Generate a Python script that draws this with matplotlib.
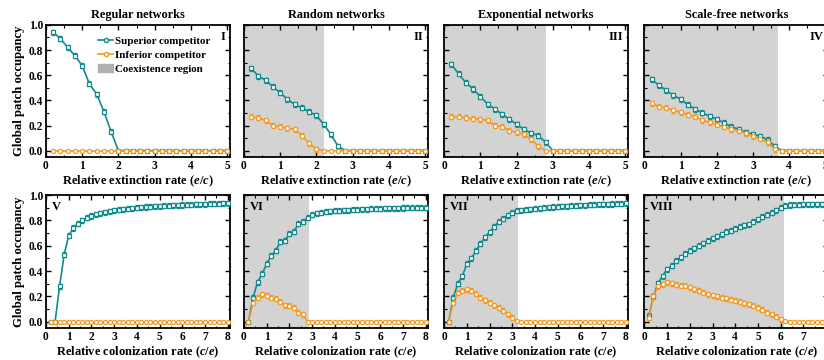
"""Global patch occupancy of superior / inferior competitors on four network types."""

import matplotlib as mpl
import matplotlib.pyplot as plt
import numpy as np
from matplotlib.lines import Line2D
from matplotlib.patches import Patch
from matplotlib.ticker import MultipleLocator, FuncFormatter

mpl.rcParams.update(
    {
        "font.family": ["Liberation Serif", "DejaVu Serif"],
        "font.weight": "bold",
        "axes.titleweight": "bold",
        "axes.labelweight": "bold",
        "font.size": 7.5,
        "mathtext.fontset": "custom",
        "mathtext.it": "Liberation Serif:italic:bold",
        "mathtext.rm": "Liberation Serif:bold",
        "mathtext.bf": "Liberation Serif:bold",
        "axes.linewidth": 1.3,
        "xtick.direction": "in",
        "ytick.direction": "in",
        "xtick.top": True,
        "ytick.right": True,
    }
)

TEAL = "#138a8c"
ORANGE = "#f39a22"
SHADE = "#d3d3d3"

# ---- top row: relative extinction rate (e/c) ----
ext_x = np.round(np.arange(0.2, 5.01, 0.2), 1)

reg_sup = [0.94, 0.89, 0.82, 0.755, 0.675, 0.53, 0.45, 0.31, 0.15, 0.0]
reg_inf = [0.0] * 25

rnd_sup = [0.654, 0.593, 0.56, 0.508, 0.46, 0.41, 0.367, 0.34, 0.31, 0.28,
           0.21, 0.13, 0.035, 0.0]
rnd_inf = [0.27, 0.26, 0.24, 0.20, 0.19, 0.18, 0.17, 0.12, 0.06, 0.013, 0.0]

exp_sup = [0.686, 0.61, 0.54, 0.49, 0.43, 0.37, 0.33, 0.29, 0.25, 0.21,
           0.17, 0.14, 0.12, 0.066, 0.0]
exp_inf = [0.27, 0.27, 0.26, 0.255, 0.25, 0.24, 0.20, 0.19, 0.16, 0.146,
           0.13, 0.09, 0.035, 0.0]

sf_sup = [0.566, 0.52, 0.48, 0.44, 0.41, 0.365, 0.33, 0.30, 0.275, 0.25,
          0.22, 0.19, 0.17, 0.146, 0.13, 0.114, 0.088, 0.035, 0.0]
sf_inf = [0.375, 0.35, 0.34, 0.32, 0.305, 0.285, 0.27, 0.24, 0.225, 0.205,
          0.19, 0.17, 0.16, 0.14, 0.114, 0.093, 0.066, 0.013, 0.0]

# ---- bottom row: relative colonization rate (c/e) ----
col_x = np.round(np.arange(0.2, 8.01, 0.2), 1)

reg_c_sup = [0.0, 0.0, 0.28, 0.53, 0.68, 0.74, 0.775, 0.80, 0.82, 0.835,
             0.848, 0.858, 0.866, 0.873, 0.879, 0.884, 0.889, 0.893, 0.897, 0.900,
             0.903, 0.906, 0.908, 0.911, 0.913, 0.915, 0.917, 0.919, 0.920, 0.922,
             0.924, 0.925, 0.927, 0.928, 0.929, 0.931, 0.932, 0.933, 0.934, 0.935]
reg_c_inf = [0.0] * 40

rnd_c_sup = [0.0, 0.19, 0.31, 0.377, 0.456, 0.52, 0.56, 0.63, 0.64, 0.695,
             0.71, 0.775, 0.79, 0.82, 0.846, 0.857, 0.862, 0.867, 0.872, 0.875,
             0.878, 0.880, 0.882, 0.884, 0.886, 0.888, 0.890, 0.891, 0.893, 0.894,
             0.895, 0.896, 0.897, 0.897, 0.898, 0.899, 0.899, 0.900, 0.900, 0.901]
rnd_c_inf = [0.0, 0.15, 0.19, 0.217, 0.204, 0.19, 0.18, 0.157, 0.13, 0.125,
             0.11, 0.07, 0.06, 0.0] + [0.0] * 26

exp_c_sup = [0.0, 0.19, 0.30, 0.36, 0.456, 0.50, 0.56, 0.615, 0.668, 0.708,
             0.75, 0.79, 0.814, 0.84, 0.862, 0.875, 0.88, 0.885, 0.889, 0.893,
             0.897, 0.900, 0.903, 0.906, 0.909, 0.911, 0.913, 0.915, 0.917, 0.919,
             0.921, 0.923, 0.925, 0.926, 0.928, 0.929, 0.930, 0.931, 0.932, 0.934]
exp_c_inf = [0.0, 0.15, 0.23, 0.245, 0.257, 0.245, 0.22, 0.19, 0.17, 0.15,
             0.13, 0.11, 0.085, 0.058, 0.03, 0.005] + [0.0] * 24

sf_c_sup = [0.045, 0.20, 0.305, 0.36, 0.415, 0.44, 0.48, 0.51, 0.535, 0.56,
            0.58, 0.60, 0.62, 0.64, 0.66, 0.675, 0.69, 0.71, 0.72, 0.735,
            0.75, 0.76, 0.77, 0.79, 0.81, 0.83, 0.845, 0.86, 0.88, 0.90,
            0.915, 0.922, 0.924, 0.925, 0.926, 0.927, 0.928, 0.928, 0.929, 0.930]
sf_c_inf = [0.03, 0.20, 0.28, 0.297, 0.31, 0.305, 0.29, 0.284, 0.284, 0.27,
            0.257, 0.244, 0.23, 0.218, 0.21, 0.20, 0.19, 0.183, 0.172, 0.164,
            0.156, 0.146, 0.138, 0.125, 0.11, 0.093, 0.072, 0.058, 0.04, 0.019,
            0.005] + [0.0] * 9

# coexistence region upper bounds (None = no region)
ext_coexist = [None, 2.22, 2.80, 3.68]
col_coexist = [None, 2.86, 3.27, 6.15]

TITLES = ["Regular networks", "Random networks", "Exponential networks", "Scale-free networks"]
TOP_LABELS = ["I", "II", "III", "IV"]
BOT_LABELS = ["V", "VI", "VII", "VIII"]
ERR = 0.02

top_data = [(reg_sup, reg_inf), (rnd_sup, rnd_inf), (exp_sup, exp_inf), (sf_sup, sf_inf)]
bot_data = [(reg_c_sup, reg_c_inf), (rnd_c_sup, rnd_c_inf),
            (exp_c_sup, exp_c_inf), (sf_c_sup, sf_c_inf)]


def pad(vals, n):
    return list(vals) + [0.0] * (n - len(vals))


def draw_series(ax, x, y, color, marker):
    y = np.array(pad(y, len(x)))
    err = np.where(y > 0.01, ERR, 0.0)
    ax.errorbar(x, y, yerr=err, color=color, lw=1.2, elinewidth=0.8, capsize=1.6,
                capthick=0.8, marker=marker, ms=3.0, mfc="white", mec=color, mew=0.9,
                zorder=3)


def style(ax, xmax, show_y):
    ax.set_ylim(-0.05, 1.0)
    ax.set_xlim(0, xmax)
    ax.xaxis.set_major_locator(MultipleLocator(1))
    ax.xaxis.set_minor_locator(MultipleLocator(0.5))
    ax.yaxis.set_major_locator(MultipleLocator(0.2))
    ax.yaxis.set_minor_locator(MultipleLocator(0.1))
    ax.tick_params(which="major", length=3.5, width=1.0, labelsize=8.3, pad=2)
    ax.tick_params(which="minor", length=1.8, width=0.8, top=True, right=True)
    ax.xaxis.set_major_formatter(FuncFormatter(lambda v, p: f"{v:.0f}"))
    for lab in ax.get_xticklabels() + ax.get_yticklabels():
        lab.set_fontweight("bold")
    if show_y:
        ax.yaxis.set_major_formatter(FuncFormatter(lambda v, p: f"{v:.1f}"))
        ax.set_ylabel("Global patch occupancy", fontsize=9.2, labelpad=3)
    else:
        ax.yaxis.set_major_formatter(FuncFormatter(lambda v, p: ""))


fig = plt.figure(figsize=(8.24, 3.6), dpi=100)
lefts = [0.0558, 0.296, 0.539, 0.782]
W = 0.2233

for i in range(4):
    ax = fig.add_axes([lefts[i], 0.564, W, 0.367])
    sup, inf = top_data[i]
    if ext_coexist[i]:
        ax.axvspan(0, ext_coexist[i], color=SHADE, lw=0, zorder=0)
    draw_series(ax, ext_x, sup, TEAL, "s")
    draw_series(ax, ext_x, inf, ORANGE, "o")
    style(ax, 5.08, i == 0)
    ax.set_title(TITLES[i], fontsize=8.8, pad=5)
    ax.set_xlabel("Relative extinction rate ($\\mathit{e/c}$)", fontsize=9, labelpad=1)
    ax.text(0.975, 0.955, TOP_LABELS[i], transform=ax.transAxes, ha="right", va="top",
            fontsize=9)
    if i == 0:
        handles = [
            Line2D([], [], color=TEAL, lw=1.2, marker="o", ms=3, mfc="white", mec=TEAL),
            Line2D([], [], color=ORANGE, lw=1.2, marker="o", ms=3, mfc="white", mec=ORANGE),
            Patch(color="#b0b0b0"),
        ]
        ax.legend(handles, ["Superior competitor", "Inferior competitor", "Coexistence region"],
                  loc="upper left", bbox_to_anchor=(0.24, 0.975), frameon=False,
                  prop={"size": 7.9, "weight": "bold"},
                  handlelength=1.4, handletextpad=0.15, labelspacing=0.42, borderpad=0.2)

for i in range(4):
    ax = fig.add_axes([lefts[i], 0.089, W, 0.369])
    sup, inf = bot_data[i]
    if col_coexist[i]:
        ax.axvspan(0, col_coexist[i], color=SHADE, lw=0, zorder=0)
    draw_series(ax, col_x, sup, TEAL, "s")
    draw_series(ax, col_x, inf, ORANGE, "o")
    style(ax, 8.1, i == 0)
    ax.set_xlabel("Relative colonization rate ($\\mathit{c/e}$)", fontsize=9, labelpad=1)
    ax.text(0.03, 0.955, BOT_LABELS[i], transform=ax.transAxes, ha="left", va="top",
            fontsize=9)

fig.savefig("out.png", dpi=100)
